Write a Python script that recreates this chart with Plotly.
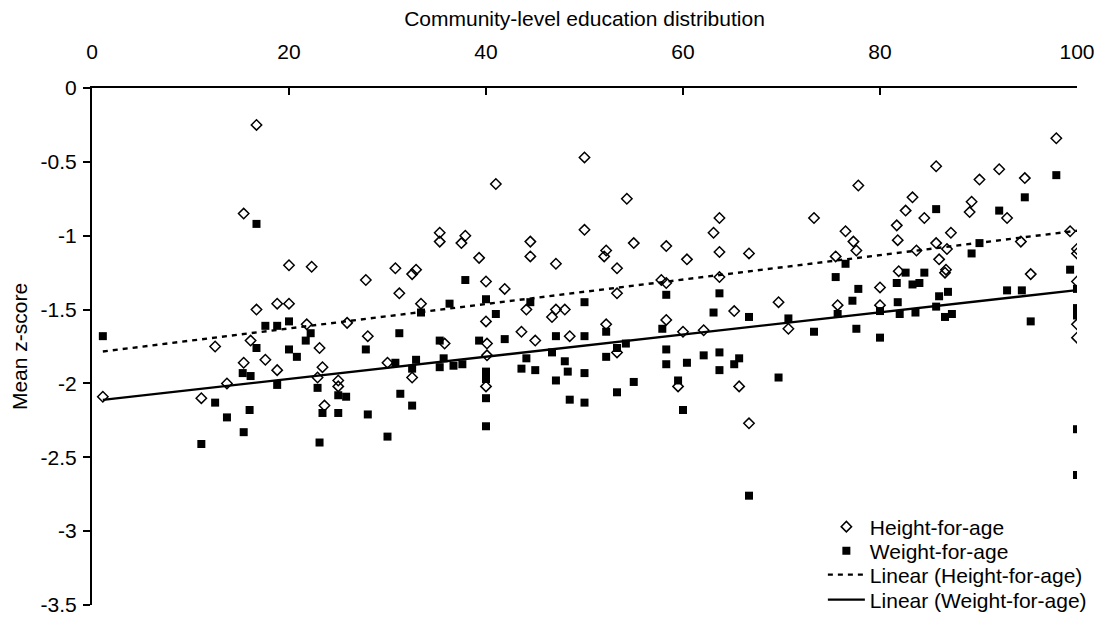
import plotly.graph_objects as go

# Height-for-age (open diamonds)
hfa_x = [1.1, 11.1, 12.5, 13.7, 15.4, 16.7, 15.4, 16.1, 16.7, 17.6, 18.8, 18.8, 20.0, 20.0,
         21.8, 22.3, 23.1, 23.4, 22.9, 23.6, 25.0, 25.0, 25.9, 27.8, 28.0, 30.0, 30.8, 31.2,
         32.5, 32.9, 33.4, 32.5, 35.3, 35.3, 37.5, 37.9, 35.8, 39.3, 40.0, 40.0, 40.1, 40.1,
         40.0, 41.0, 41.9, 43.6, 44.1, 44.5, 44.5, 45.0, 46.7, 47.1, 47.1, 48.0, 48.5, 50.0,
         50.0, 52.2, 52.0, 52.2, 53.3, 53.3, 53.3, 54.3, 55.0, 57.8, 58.3, 58.3, 58.3, 59.5,
         60.0, 60.4, 62.1, 63.1, 63.7, 63.7, 63.7, 65.2, 65.7, 66.7, 66.7, 69.7, 70.7, 73.3,
         75.5, 75.7, 76.5, 77.3, 77.6, 77.8, 80.0, 80.0, 81.7, 81.8, 81.9, 82.6, 83.3, 83.7,
         84.5, 85.7, 85.7, 86.0, 86.7, 86.6, 86.8, 87.2, 89.1, 89.3, 90.1, 92.1, 92.9, 94.3,
         94.7, 95.3, 97.9, 99.3, 100, 100, 100, 100, 100]
hfa_y = [-2.09, -2.10, -1.75, -2.00, -0.85, -0.25, -1.86, -1.71, -1.50, -1.84, -1.46, -1.91, -1.20, -1.46,
         -1.60, -1.21, -1.76, -1.89, -1.96, -2.15, -1.98, -2.02, -1.59, -1.30, -1.68, -1.86, -1.22, -1.39,
         -1.26, -1.23, -1.46, -1.96, -0.98, -1.04, -1.05, -1.00, -1.73, -1.15, -1.31, -1.58, -1.73, -1.81,
         -2.02, -0.65, -1.36, -1.65, -1.50, -1.04, -1.14, -1.71, -1.55, -1.50, -1.19, -1.50, -1.68, -0.47,
         -0.96, -1.10, -1.14, -1.60, -1.22, -1.39, -1.79, -0.75, -1.05, -1.30, -1.32, -1.07, -1.57, -2.02,
         -1.65, -1.16, -1.64, -0.98, -0.88, -1.11, -1.28, -1.51, -2.02, -1.12, -2.27, -1.45, -1.63, -0.88,
         -1.14, -1.47, -0.97, -1.04, -1.10, -0.66, -1.35, -1.47, -0.93, -1.03, -1.24, -0.83, -0.74, -1.10,
         -0.88, -0.53, -1.05, -1.16, -1.23, -1.25, -1.09, -0.98, -0.84, -0.77, -0.62, -0.55, -0.88, -1.04,
         -0.61, -1.26, -0.34, -0.97, -1.09, -1.12, -1.31, -1.60, -1.69]

# Weight-for-age (filled squares)
wfa_x = [1.1, 11.1, 12.5, 13.7, 15.3, 15.4, 16.0, 16.1, 16.7, 16.7, 17.6, 18.8, 18.8, 20.0,
         20.0, 20.8, 21.7, 22.2, 22.9, 23.1, 23.4, 25.0, 25.0, 25.8, 27.8, 28.0, 30.0, 30.8,
         31.2, 31.3, 32.5, 32.5, 32.9, 33.4, 35.3, 35.3, 35.7, 36.3, 36.7, 37.6, 37.9, 39.3,
         40.0, 40.0, 40.0, 40.0, 40.0, 41.0, 41.9, 43.6, 44.1, 44.5, 45.0, 46.7, 47.1, 47.1,
         48.0, 48.3, 48.5, 50.0, 50.0, 50.0, 50.0, 52.2, 52.2, 53.3, 53.3, 54.2, 55.0, 57.9,
         58.3, 58.3, 58.3, 59.5, 60.0, 60.4, 62.1, 63.1, 63.7, 63.7, 63.7, 65.2, 65.7, 66.7,
         66.7, 69.7, 70.7, 73.3, 75.5, 75.7, 76.5, 77.2, 77.6, 77.8, 80.0, 80.0, 81.7, 81.8,
         82.0, 82.6, 83.3, 83.6, 84.0, 84.5, 85.7, 85.7, 86.0, 86.6, 86.9, 87.3, 89.3, 90.1,
         92.1, 92.9, 94.4, 94.7, 95.3, 97.9, 99.3, 100, 100, 100, 100, 100]
wfa_y = [-1.68, -2.41, -2.13, -2.23, -1.93, -2.33, -2.18, -1.95, -0.92, -1.76, -1.61, -1.61, -2.01, -1.58,
         -1.77, -1.82, -1.71, -1.66, -2.03, -2.40, -2.20, -2.08, -2.20, -2.09, -1.77, -2.21, -2.36, -1.86,
         -1.66, -2.07, -1.90, -2.15, -1.84, -1.52, -1.71, -1.89, -1.83, -1.46, -1.88, -1.87, -1.30, -1.71,
         -1.43, -1.92, -1.97, -2.10, -2.29, -1.53, -1.70, -1.90, -1.83, -1.45, -1.91, -1.79, -1.68, -1.98,
         -1.85, -1.92, -2.11, -1.45, -1.68, -1.93, -2.13, -1.65, -1.82, -1.76, -2.06, -1.73, -1.99, -1.63,
         -1.40, -1.77, -1.87, -1.98, -2.18, -1.86, -1.81, -1.52, -1.39, -1.79, -1.91, -1.87, -1.83, -1.55,
         -2.76, -1.96, -1.56, -1.65, -1.28, -1.53, -1.19, -1.44, -1.63, -1.36, -1.51, -1.69, -1.32, -1.45,
         -1.53, -1.25, -1.33, -1.52, -1.32, -1.25, -0.82, -1.48, -1.41, -1.55, -1.38, -1.53, -1.12, -1.05,
         -0.83, -1.37, -1.37, -0.74, -1.58, -0.59, -1.23, -1.36, -1.49, -1.54, -2.31, -2.62]

# Linear trend lines: [intercept, slope]
hfa_trend = [-1.793, 0.00827]
wfa_trend = [-2.120, 0.00752]
trend_x = [1.1, 100]

x_ticks = [0, 20, 40, 60, 80, 100]
y_ticks = [0, -0.5, -1, -1.5, -2, -2.5, -3, -3.5]

FONT = "Liberation Sans, Arial, sans-serif"
FS = 21

fig = go.Figure()
fig.add_trace(go.Scatter(
    x=hfa_x, y=hfa_y, mode="markers", name="Height-for-age", legend="legend",
    marker=dict(symbol="diamond-open", size=8, color="black", line=dict(width=1.5, color="black")),
))
fig.add_trace(go.Scatter(
    x=wfa_x, y=wfa_y, mode="markers", name="Weight-for-age", legend="legend2",
    marker=dict(symbol="square", size=8, color="black"),
))
fig.add_trace(go.Scatter(
    x=trend_x, y=[hfa_trend[0] + hfa_trend[1] * v for v in trend_x], mode="lines",
    name="Linear (Height-for-age)", legend="legend3",
    line=dict(color="black", width=2.4, dash="5px,5px"),
))
fig.add_trace(go.Scatter(
    x=trend_x, y=[wfa_trend[0] + wfa_trend[1] * v for v in trend_x], mode="lines",
    name="Linear (Weight-for-age)", legend="legend4",
    line=dict(color="black", width=2.4),
))

def leg(yv):
    return dict(x=0.742, y=yv, xanchor="left", yanchor="middle",
                bgcolor="rgba(0,0,0,0)", font=dict(size=FS, family=FONT),
                itemwidth=37, borderwidth=0)

fig.update_layout(
    width=1106, height=623,
    margin=dict(l=92, r=29, t=88, b=18, autoexpand=False),
    paper_bgcolor="white", plot_bgcolor="white",
    font=dict(family=FONT, size=FS, color="black"),
    showlegend=True,
    legend=leg(0.1509), legend2=leg(0.1044), legend3=leg(0.0580), legend4=leg(0.0097),
    hovermode=False,
)
fig.update_xaxes(
    range=[0, 100], side="top", tickvals=x_ticks, ticktext=[str(v) for v in x_ticks],
    showline=True, linecolor="black", linewidth=2, ticks="inside", ticklen=7,
    tickwidth=2, tickcolor="black", showgrid=False, zeroline=False,
    ticklabelstandoff=19,
    title=dict(text="Community-level education distribution", font=dict(size=FS), standoff=7),
)
fig.update_yaxes(
    range=[-3.5, 0], tickvals=y_ticks, ticktext=[str(v) for v in y_ticks],
    showline=True, linecolor="black", linewidth=2, ticks="outside", ticklen=7,
    tickwidth=2, tickcolor="black", showgrid=False, zeroline=False,
    ticklabelstandoff=2,
    title=dict(text="Mean z-score", font=dict(size=FS), standoff=7),
)

fig.write_html("out.html")
